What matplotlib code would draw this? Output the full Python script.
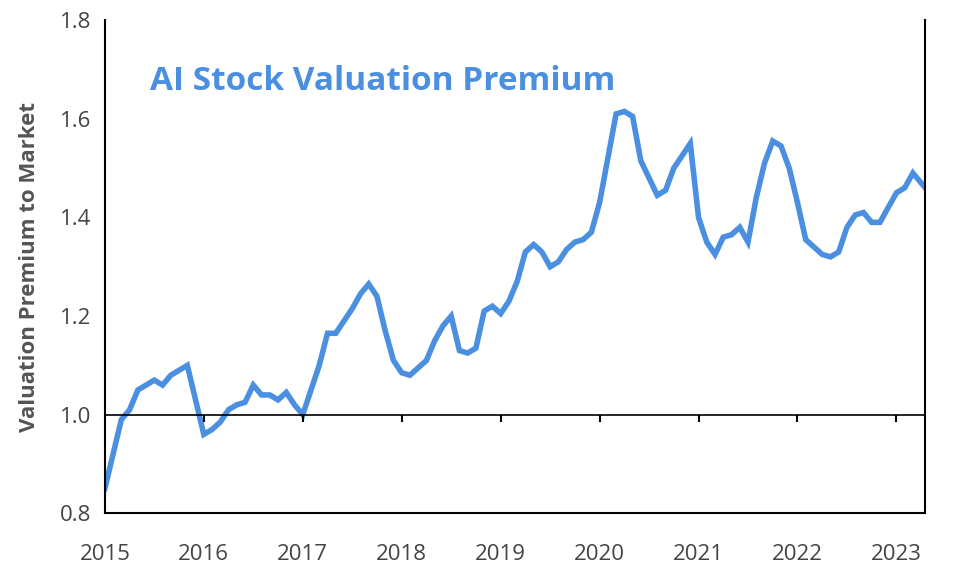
import matplotlib
matplotlib.use("Agg")
import matplotlib.pyplot as plt
import numpy as np

plt.rcParams['font.family'] = ['Open Sans', 'DejaVu Sans']

values = [
    0.85, 0.92, 0.99, 1.01, 1.05, 1.06, 1.07, 1.06, 1.08, 1.09, 1.10, 1.03,
    0.96, 0.97, 0.985, 1.01, 1.02, 1.025, 1.06, 1.04, 1.04, 1.03, 1.045, 1.02,
    1.00, 1.05, 1.10, 1.165, 1.165, 1.19, 1.215, 1.245, 1.265, 1.24, 1.17, 1.11,
    1.085, 1.08, 1.095, 1.11, 1.15, 1.18, 1.20, 1.13, 1.125, 1.135, 1.21, 1.22,
    1.205, 1.23, 1.27, 1.33, 1.345, 1.33, 1.30, 1.31, 1.335, 1.35, 1.355, 1.37,
    1.43, 1.52, 1.61, 1.615, 1.605, 1.515, 1.48, 1.445, 1.455, 1.50, 1.525, 1.55,
    1.40, 1.35, 1.325, 1.36, 1.365, 1.38, 1.35, 1.44, 1.51, 1.555, 1.545, 1.50,
    1.43, 1.355, 1.34, 1.325, 1.32, 1.33, 1.38, 1.405, 1.41, 1.39, 1.39, 1.42,
    1.45, 1.46, 1.49, 1.47, 1.45,
]
dates = 2015 + np.arange(len(values)) / 12.0
year_ticks = list(range(2015, 2024))
y_ticks = [0.8, 1.0, 1.2, 1.4, 1.6, 1.8]

fig = plt.figure(figsize=(9.8, 5.78), dpi=100)
ax = fig.add_axes([0.107, 0.112, 0.837, 0.853])
ax.plot(dates, values, color='#4a8fe0', lw=4, solid_joinstyle='miter')
ax.axhline(1.0, color='black', lw=1.2)
ax.set_xlim(2015, 2023.29)
ax.set_ylim(0.8, 1.8)
ax.set_xticks(year_ticks)
ax.set_xticklabels([str(y) for y in year_ticks])
ax.set_yticks(y_ticks)
ax.set_yticklabels([f"{v:.1f}" for v in y_ticks])
ax.tick_params(axis='x', length=0, labelsize=16, colors='#444444', pad=22)
ax.tick_params(axis='y', length=0, labelsize=16, colors='#444444', pad=10)
ax.spines['top'].set_visible(False)
for s in ['left', 'bottom', 'right']:
    ax.spines[s].set_color('black')
    ax.spines[s].set_linewidth(1.5)
ax.vlines(year_ticks[1:], 0.985, 1.0, color='black', lw=1.5)
ax.set_ylabel('Valuation Premium to Market', fontsize=16, fontweight='bold',
              color='#555555', labelpad=14)
ax.text(0.055, 0.875, 'AI Stock Valuation Premium', transform=ax.transAxes,
        fontsize=24, fontweight='bold', color='#4a8fe0', va='center')
fig.savefig('out.png', dpi=100)
